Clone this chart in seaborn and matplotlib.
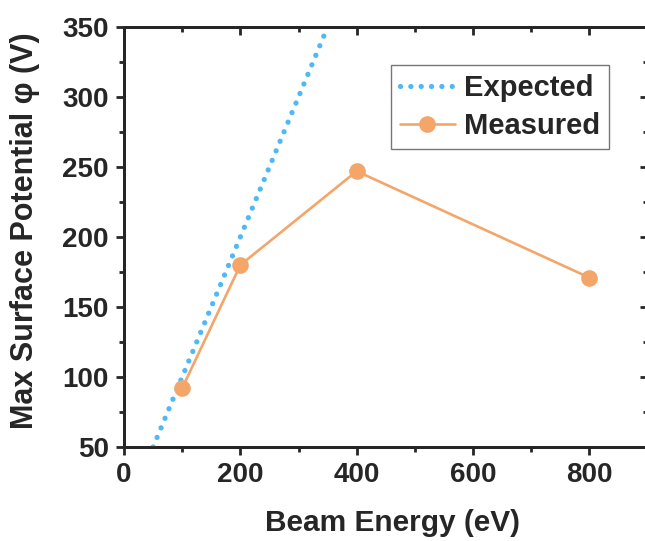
import matplotlib
matplotlib.use("Agg")
import matplotlib.pyplot as plt
import seaborn as sns
from matplotlib.ticker import MultipleLocator

# Data
expected_x = [50, 350]
expected_y = [50, 350]
measured_x = [100, 200, 400, 800]
measured_y = [92, 180, 247, 171]
x_ticks = [0, 200, 400, 600, 800]
y_ticks = [50, 100, 150, 200, 250, 300, 350]

sns.set_style("ticks")
plt.rcParams['font.family'] = ['Liberation Sans', 'DejaVu Sans']
plt.rcParams['font.weight'] = 'bold'

fig = plt.figure(figsize=(6.45, 5.41), dpi=100)
L, R, B, T = 124, 647.5, 447, 27
ax = fig.add_axes([L / 645, (541 - B) / 541, (R - L) / 645, (B - T) / 541])

blue = '#4FB8F7'
orange = '#F4A66A'

sns.lineplot(x=expected_x, y=expected_y, ax=ax, color=blue, linewidth=3.8,
             label='Expected')
sns.lineplot(x=measured_x, y=measured_y, ax=ax, color=orange, linewidth=1.9,
             marker='o', markersize=12, markeredgewidth=0, label='Measured')
ln = ax.lines[0]
ln.set_linewidth(3.8)
ln.set_linestyle((0, (0.01, 1.95)))
ln.set_dash_capstyle('round')

xmax = 900
ax.set_xlim(0, xmax)
ax.set_ylim(50, 350)
ax.set_xticks(x_ticks)
ax.set_yticks(y_ticks)
ax.xaxis.set_minor_locator(MultipleLocator(100))
ax.yaxis.set_minor_locator(MultipleLocator(25))
ax.tick_params(axis='both', which='major', direction='out', length=6, width=2,
               labelsize=20, pad=5)
ax.tick_params(axis='both', which='minor', direction='out', length=3.5, width=2)
for lbl in ax.get_xticklabels() + ax.get_yticklabels():
    lbl.set_fontweight('bold')
for s in ax.spines.values():
    s.set_linewidth(2)
    s.set_visible(True)

# mirrored inward ticks on top/right
axt = ax.twiny()
axt.set_xlim(0, xmax)
axt.set_xticks(x_ticks)
axt.xaxis.set_minor_locator(MultipleLocator(100))
axt.tick_params(axis='x', which='major', direction='in', length=6, width=2, labeltop=False)
axt.tick_params(axis='x', which='minor', direction='in', length=3.5, width=2)
axr = ax.twinx()
axr.set_ylim(50, 350)
axr.set_yticks(y_ticks)
axr.yaxis.set_minor_locator(MultipleLocator(25))
axr.tick_params(axis='y', which='major', direction='in', length=6, width=2, labelright=False)
axr.tick_params(axis='y', which='minor', direction='in', length=3.5, width=2)
for a in (axt, axr):
    for s in a.spines.values():
        s.set_linewidth(2)

ax.set_xlabel('Beam Energy (eV)', fontsize=21.5, fontweight='bold')
ax.set_ylabel('Max Surface Potential φ (V)', fontsize=22, fontweight='bold')
ax.xaxis.set_label_coords(0.513, -0.148)
ax.yaxis.set_label_coords(-0.161, 0.514)

leg = ax.legend(loc='upper right', bbox_to_anchor=(0.926, 0.9095), borderaxespad=0,
                frameon=True, fancybox=False, fontsize=21, handlelength=1.9,
                handletextpad=0.3, borderpad=0.3, labelspacing=0.35)
leg.get_frame().set_edgecolor('#555555')
leg.get_frame().set_linewidth(1)
for t in leg.get_texts():
    t.set_fontweight('bold')
leg.set_zorder(10)
ax.set_zorder(axt.get_zorder() + 2)
ax.patch.set_visible(False)

fig.savefig('out.png', dpi=100)
